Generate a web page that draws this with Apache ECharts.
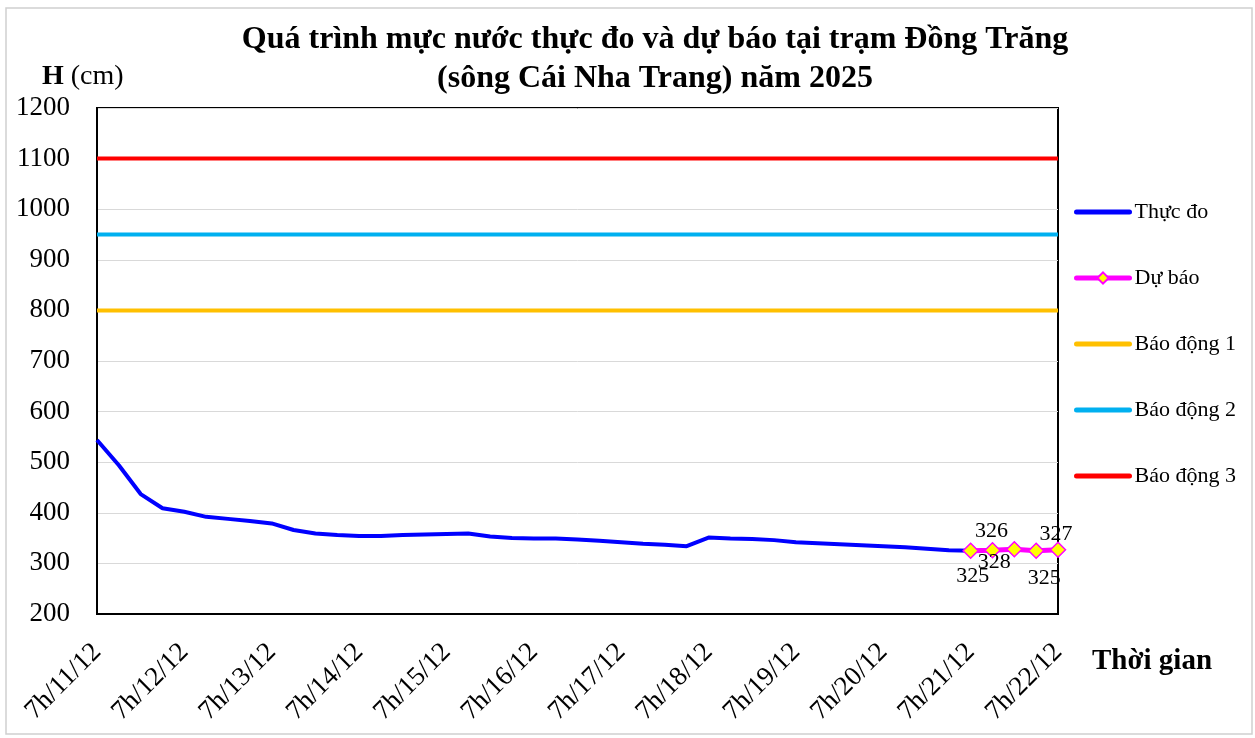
<!DOCTYPE html>
<html>
<head>
<meta charset="utf-8">
<script src="https://cdn.jsdelivr.net/npm/echarts@6/dist/echarts.min.js"></script>
<style>
html,body{margin:0;padding:0;background:#fff;}
#chart{width:1255px;height:738px;}
</style>
</head>
<body>
<div id="chart"></div>
<script>
// ---- data ----
const dayTicks = ['7h/11/12','7h/12/12','7h/13/12','7h/14/12','7h/15/12','7h/16/12','7h/17/12','7h/18/12','7h/19/12','7h/20/12','7h/21/12','7h/22/12'];
const stepHours = [7, 13, 19, 1];
const observed = [544, 494, 437, 409, 402, 392, 388, 384, 379, 366, 359, 356, 354, 354, 356, 357, 358, 359, 353, 350, 349, 349, 347, 345, 342, 339, 337, 334, 351, 349, 348, 346, 342, 340, 338, 336, 334, 332, 329, 326, 325];
const forecast = [325, 326, 328, 325, 327];
const alarmLevels = [800, 950, 1100];
const seriesNames = ['Thực đo', 'Dự báo', 'Báo động 1', 'Báo động 2', 'Báo động 3'];
const yTicks = {min: 200, max: 1200, step: 100};

// ---- build categories (6-hourly) ----
const nCat = (dayTicks.length - 1) * 4 + 1;
const categories = [];
for (let i = 0; i < nCat; i++) {
  const step = i % 4;
  const day = 11 + Math.floor(i / 4) + (step === 3 ? 1 : 0);
  categories.push(stepHours[step] + 'h/' + day + '/12');
}
const forecastStart = observed.length - 1;
// label placement (layout only), as [dx, dy] from the marker centre
const forecastLabelShift = [[2, 25], [-1, -19], [-20, 13], [8, 27], [-2, -16]];
const forecastData = categories.map(() => null);
forecast.forEach((v, k) => { forecastData[forecastStart + k] = v; });
const alarmData = alarmLevels.map(v => categories.map(() => v));

const FONT = '"Liberation Serif", "Times New Roman", serif';
const hideSym = {opacity: 0};
const chart = echarts.init(document.getElementById('chart'));
chart.setOption({
  animation: false,
  backgroundColor: '#fff',
  textStyle: {fontFamily: FONT},
  grid: {left: 97, right: 197, top: 108, bottom: 124, show: true, borderColor: '#000', borderWidth: 2, backgroundColor: 'transparent'},
  legend: {
    orient: 'vertical', left: 1074, top: 201, padding: 0,
    itemWidth: 53, itemHeight: 14, itemGap: 44,
    lineStyle: {width: 5, cap: 'round'},
    textStyle: {fontFamily: FONT, fontSize: 22, color: '#000', lineHeight: 22},
    data: [
      {name: seriesNames[0], itemStyle: hideSym},
      {name: seriesNames[1]},
      {name: seriesNames[2], itemStyle: hideSym},
      {name: seriesNames[3], itemStyle: hideSym},
      {name: seriesNames[4], itemStyle: hideSym}
    ]
  },
  xAxis: {
    type: 'category', data: categories, boundaryGap: false,
    axisLine: {show: true, lineStyle: {color: '#000', width: 2}},
    axisTick: {show: false},
    splitLine: {show: false},
    axisLabel: {interval: 3, rotate: 45, margin: 34, fontFamily: FONT, fontSize: 27, color: '#000'}
  },
  yAxis: {
    type: 'value', min: yTicks.min, max: yTicks.max, interval: yTicks.step,
    axisLine: {show: true, lineStyle: {color: '#000', width: 2}},
    axisTick: {show: false},
    splitLine: {show: true, lineStyle: {color: '#D9D9D9', width: 1}},
    axisLabel: {margin: 27, fontFamily: FONT, fontSize: 27, color: '#000', formatter: v => String(v)}
  },
  series: [
    {name: seriesNames[0], type: 'line', data: observed, showSymbol: false, symbol: 'none',
     lineStyle: {color: '#0000FF', width: 4}, itemStyle: {color: '#0000FF'}, z: 4},
    {name: seriesNames[1], type: 'line', data: forecastData, symbol: 'diamond', symbolSize: 15, showAllSymbol: true,
     lineStyle: {color: '#FF00FF', width: 5}, itemStyle: {color: '#FFFF00', borderColor: '#FF00FF', borderWidth: 1.5},
     label: {show: true, position: 'inside', fontFamily: FONT, fontSize: 22, color: '#000'},
     labelLayout: function (p) {
       const s = forecastLabelShift[p.dataIndex - forecastStart] || [0, 0];
       return {dx: s[0], dy: s[1], hideOverlap: false};
     }, z: 5},
    {name: seriesNames[2], type: 'line', data: alarmData[0], symbol: 'none',
     lineStyle: {color: '#FFC000', width: 4}, itemStyle: {color: '#FFC000'}, z: 3},
    {name: seriesNames[3], type: 'line', data: alarmData[1], symbol: 'none',
     lineStyle: {color: '#00B0F0', width: 4}, itemStyle: {color: '#00B0F0'}, z: 3},
    {name: seriesNames[4], type: 'line', data: alarmData[2], symbol: 'none',
     lineStyle: {color: '#FF0000', width: 4}, itemStyle: {color: '#FF0000'}, z: 3}
  ],
  graphic: [
    {type: 'rect', shape: {x: 6, y: 8, width: 1246, height: 726}, style: {fill: 'none', stroke: '#D0D0D0', lineWidth: 1.5}, z: -1, silent: true},
    {type: 'text', x: 655, y: 40, style: {text: 'Quá trình mực nước thực đo và dự báo tại trạm Đồng Trăng', fontFamily: FONT, fontSize: 32, fontWeight: 'bold', fill: '#000', align: 'center', verticalAlign: 'middle'}},
    {type: 'text', x: 655, y: 79, style: {text: '(sông Cái Nha Trang) năm 2025', fontFamily: FONT, fontSize: 32, fontWeight: 'bold', fill: '#000', align: 'center', verticalAlign: 'middle'}},
    {type: 'text', x: 42, y: 77, style: {text: '{b|H} (cm)', fontFamily: FONT, fontSize: 28, fill: '#000', verticalAlign: 'middle',
      rich: {b: {fontFamily: FONT, fontSize: 28, fontWeight: 'bold', fill: '#000'}}}},
    {type: 'text', x: 1092, y: 662, style: {text: 'Thời gian', fontFamily: FONT, fontSize: 29, fontWeight: 'bold', fill: '#000', verticalAlign: 'middle'}}
  ]
});
</script>
</body>
</html>
